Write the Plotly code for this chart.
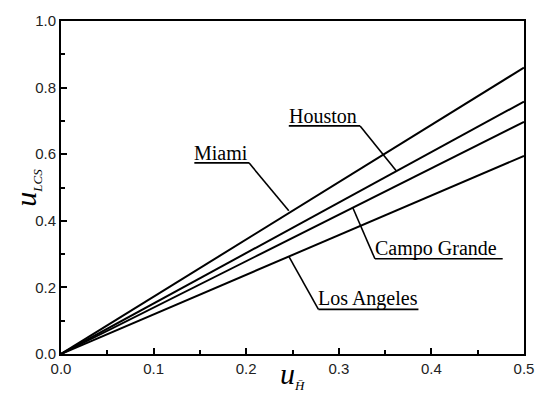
import plotly.graph_objects as go

cities = ["Miami", "Houston", "Campo Grande", "Los Angeles"]
x_vals = [0.0, 0.5]
end_vals = [0.86, 0.758, 0.697, 0.595]

# label placement: (text x start, underline x end, underline y, leader target x, leader target y)
label_pos = {
    "Miami": (0.144, 0.203, 0.574, 0.246, 0.430),
    "Houston": (0.246, 0.323, 0.685, 0.362, 0.550),
    "Campo Grande": (0.339, 0.477, 0.286, 0.315, 0.440),
    "Los Angeles": (0.278, 0.386, 0.134, 0.246, 0.293),
}

SERIF = "Liberation Serif, Times New Roman, Times, serif"
SANS = "Liberation Sans, Arial, Helvetica, sans-serif"

fig = go.Figure()
for name, v in zip(cities, end_vals):
    fig.add_trace(go.Scatter(x=x_vals, y=[0.0, v], mode="lines",
                             line=dict(color="black", width=2), name=name,
                             showlegend=False, hoverinfo="skip"))

shapes = []
annotations = []
for name in cities:
    x0, x1, yu, tx, ty = label_pos[name]
    shapes.append(dict(type="line", xref="x", yref="y", x0=x0, x1=x1, y0=yu, y1=yu,
                       line=dict(color="black", width=1.6)))
    sx = x1 if ty < yu else x0
    shapes.append(dict(type="line", xref="x", yref="y", x0=sx, x1=tx, y0=yu, y1=ty,
                       line=dict(color="black", width=1.6)))
    annotations.append(dict(x=x0, y=yu, xref="x", yref="y", text=name, showarrow=False,
                            xanchor="left", yanchor="bottom", yshift=-3, xshift=-2,
                            font=dict(family=SERIF, size=20, color="black")))

annotations.append(dict(x=0.5, y=-0.062, xref="paper", yref="paper", showarrow=False,
                        xanchor="center", yanchor="middle",
                        text="<i>u</i><sub><span style='font-size:13px'><i>H̄</i></span></sub>",
                        font=dict(family=SERIF, size=30, color="black")))
annotations.append(dict(x=-0.075, y=0.5, xref="paper", yref="paper", showarrow=False,
                        xanchor="center", yanchor="middle", textangle=-90,
                        text="<i>u</i><sub><span style='font-size:13px'><i>LCS</i></span></sub>",
                        font=dict(family=SERIF, size=30, color="black")))

fig.update_layout(
    width=546, height=393,
    margin=dict(l=61, r=12, t=16, b=39),
    paper_bgcolor="white", plot_bgcolor="white",
    shapes=shapes, annotations=annotations,
    xaxis=dict(range=[0, 0.5], tickvals=[0, 0.1, 0.2, 0.3, 0.4, 0.5],
               ticktext=["0.0", "0.1", "0.2", "0.3", "0.4", "0.5"],
               ticklabeloverflow="allow",
               ticks="inside", ticklen=6, tickwidth=1.5, tickcolor="black",
               minor=dict(dtick=0.05, ticks="inside", ticklen=4, tickwidth=1.5, tickcolor="black", showgrid=False),
               showline=True, linecolor="black", linewidth=2, mirror=True,
               showgrid=False, zeroline=False,
               tickfont=dict(family=SANS, size=15, color="#222")),
    yaxis=dict(range=[0, 1.0], tickvals=[0, 0.2, 0.4, 0.6, 0.8, 1.0],
               ticktext=["0.0", "0.2", "0.4", "0.6", "0.8", "1.0"],
               ticklabeloverflow="allow",
               ticks="inside", ticklen=6, tickwidth=1.5, tickcolor="black",
               minor=dict(dtick=0.1, ticks="inside", ticklen=4, tickwidth=1.5, tickcolor="black", showgrid=False),
               showline=True, linecolor="black", linewidth=2, mirror=True,
               showgrid=False, zeroline=False,
               tickfont=dict(family=SANS, size=15, color="#222")),
)

fig.write_html("out.html")
